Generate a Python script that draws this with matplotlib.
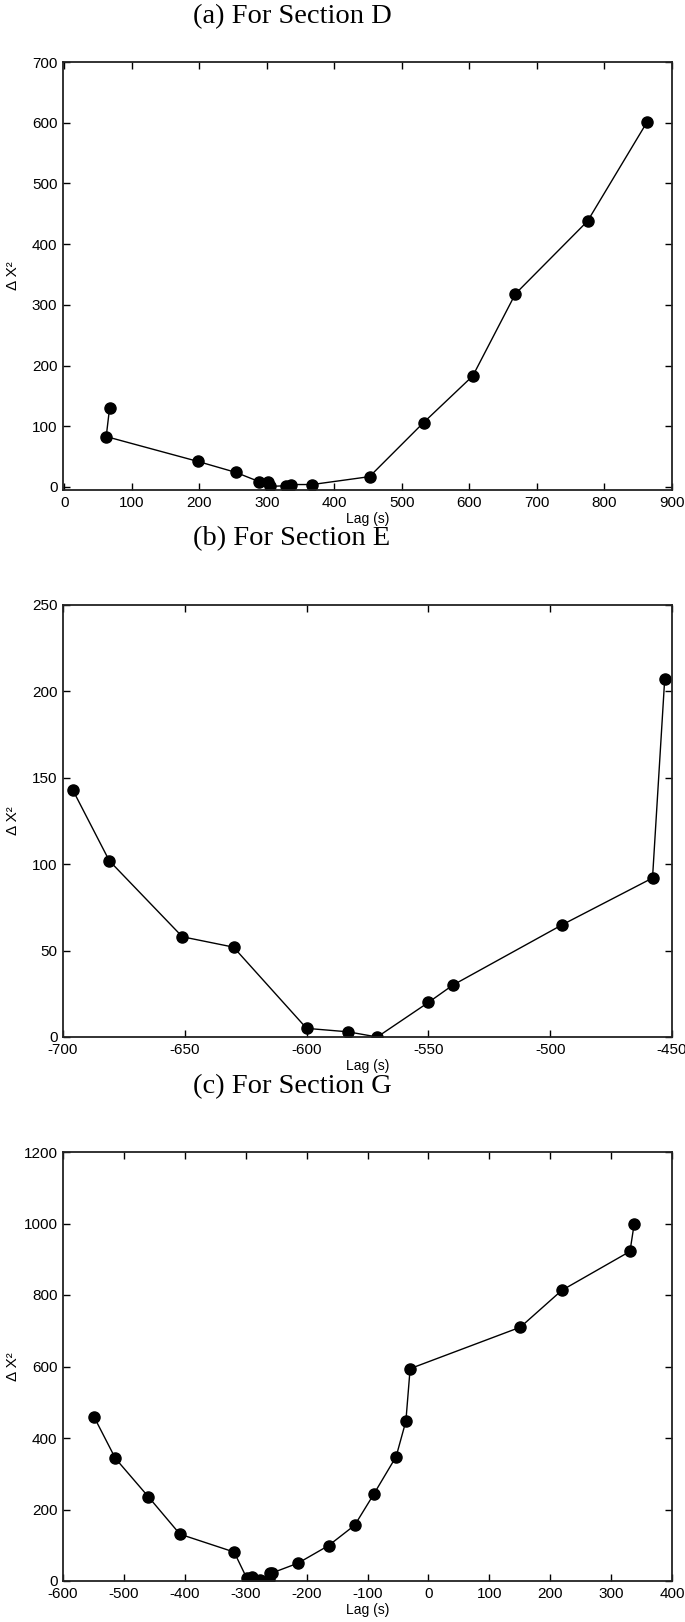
import matplotlib
matplotlib.use("Agg")
import matplotlib.pyplot as plt

# Panel (a) Section D
lag_d = [67, 62, 198, 254, 288, 301, 305, 329, 335, 367, 452, 532, 605, 668, 775, 863]
chi_d = [130, 83, 42, 24, 9, 9, 1, 2, 4, 4, 17, 106, 183, 318, 438, 601]

# Panel (b) Section E
lag_e = [-696, -681, -651, -630, -600, -583, -571, -550, -540, -495, -458, -453]
chi_e = [143, 102, 58, 52, 5, 3, 0, 20, 30, 65, 92, 207]

# Panel (c) Section G
lag_g = [-549, -514, -460, -408, -319, -298, -290, -282, -276, -261, -260, -256,
         -214, -164, -121, -90, -53, -37, -30, 151, 219, 331, 338]
chi_g = [459, 343, 236, 131, 81, 7, 11, 1, 3, 5, 21, 23,
         50, 99, 156, 242, 348, 447, 594, 710, 813, 922, 1000]

titles = ["(a) For Section D", "(b) For Section E", "(c) For Section G"]
xticks_list = [list(range(0, 901, 100)), list(range(-700, -449, 50)), list(range(-600, 401, 100))]
yticks_list = [list(range(0, 701, 100)), list(range(0, 251, 50)), list(range(0, 1201, 200))]
xlims = [(-2, 900), (-700, -450), (-600, 400)]
ylims = [(-5, 700), (0, 250), (0, 1200)]
series = [(lag_d, chi_d), (lag_e, chi_e), (lag_g, chi_g)]

W, H = 685, 1622
plt.rcParams['font.family'] = ['Liberation Sans', 'DejaVu Sans']
plt.rcParams['axes.unicode_minus'] = False
fig = plt.figure(figsize=(W / 100, H / 100), dpi=100)

left, right = 63, 672
boxes = [(62, 490), (605, 1037), (1152, 1581)]
title_y = [17, 539, 1087]

for i in range(3):
    top, bot = boxes[i]
    ax = fig.add_axes([left / W, 1 - bot / H, (right - left) / W, (bot - top) / H])
    x, y = series[i]
    ax.plot(x, y, '-', color='black', lw=1.0, marker='o', ms=8,
            markerfacecolor='black', markeredgecolor='black')
    ax.set_xlim(*xlims[i])
    ax.set_ylim(*ylims[i])
    ax.set_xticks(xticks_list[i])
    ax.set_yticks(yticks_list[i])
    ax.tick_params(direction='in', top=True, right=True, length=5, width=1,
                   labelsize=11, pad=4, colors='black')
    for s in ax.spines.values():
        s.set_linewidth(1.3)
        s.set_color('#222222')
    ax.set_xlabel("Lag (s)", fontsize=10, labelpad=2)
    ax.set_ylabel("Δ X²", fontsize=11)
    ax.yaxis.set_label_coords((20 - left) / (right - left), 0.5)
    fig.text(292 / W, 1 - title_y[i] / H, titles[i], ha='center', va='center',
             fontsize=20.5, family=['Liberation Serif', 'DejaVu Serif'])

fig.savefig("out.png", dpi=100)
